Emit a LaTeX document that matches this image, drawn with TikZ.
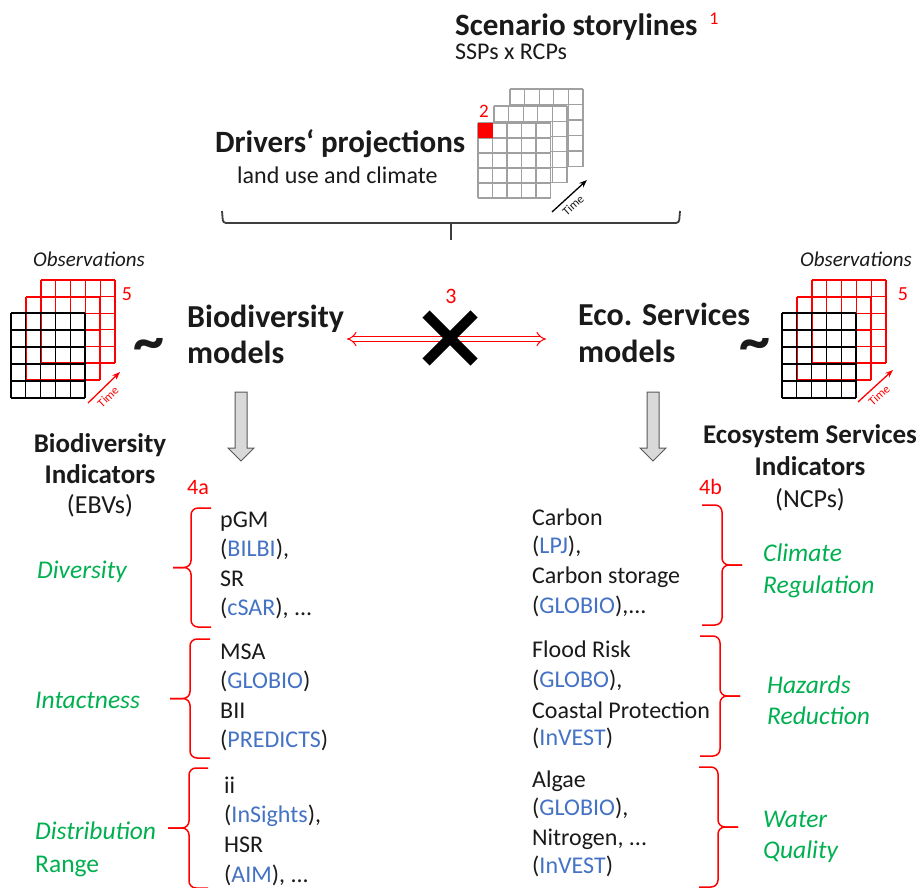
\documentclass[tikz,border=0pt]{standalone}
\usepackage{fontspec}
\setmainfont{Carlito}
\usetikzlibrary{arrows.meta}
\definecolor{mred}{HTML}{FF0000}
\definecolor{mgreen}{HTML}{00B050}
\definecolor{mblue}{HTML}{4472C4}
\definecolor{mtext}{HTML}{1A1A1A}
\definecolor{mgrid}{HTML}{A0A0A0}
\definecolor{mfill}{HTML}{D9D9D9}
\definecolor{mdark}{HTML}{595959}
\newcommand\fs[1]{\fontsize{#1}{#1}\selectfont}
\newcommand\mygrid[6]{%
  \path[fill=#6] (#1,#2) rectangle ++({5*#3},{5*#4});
  \foreach \i in {0,...,5} {
    \draw[#5, line width=1.1] ({#1+\i*#3},#2) -- ++(0,{5*#4});
    \draw[#5, line width=1.1] (#1,{#2+\i*#4}) -- ++({5*#3},0);
  }}
\newcommand\leftbr[5]{%
  \draw[mred, line width=1.5, rounded corners=7] (#3,#1) -- (#4,#1) -- (#4,{(#1+#2)/2}) -- (#5,{(#1+#2)/2});
  \draw[mred, line width=1.5, rounded corners=7] (#3,#2) -- (#4,#2) -- (#4,{(#1+#2)/2}) -- (#5,{(#1+#2)/2});}
\newcommand\grayarrow[1]{%
  \draw[fill=mfill, draw=mdark, line width=1] ({#1-6},392) -- ({#1+6},392) -- ({#1+6},448) -- ({#1+13},448) -- (#1,461) -- ({#1-13},448) -- ({#1-6},448) -- cycle;}
\begin{document}
\begin{tikzpicture}[x=1pt,y=-1pt,
  txt/.style={inner sep=0pt, anchor=base west, text=mtext},
  ctxt/.style={inner sep=0pt, anchor=base, text=mtext},
  body/.style={txt, font=\fs{24}},
  green/.style={txt, font=\fs{25.5}\itshape, text=mgreen},
  redlabel/.style={inner sep=0pt, anchor=base, text=mred},
  timearrow/.style={-{Stealth[length=8pt,width=6pt]}, line width=1.3},
  timetext/.style={sloped, below, pos=0.42, font=\fs{12}, inner sep=4.5pt},
  tildetxt/.style={inner sep=0pt, font=\fs{62}\bfseries, text=mtext}]
\useasboundingbox[fill=white] (0,0) rectangle (918,888);

% ---------- top ----------
\node[txt, font=\fs{31}\bfseries] (scen) at (455,36) {Scenario storylines};
\node[redlabel, font=\fs{18}] (n1) at (714,25) {1};
\node[txt, font=\fs{24}] (ssp) at (455,60) {SSPs x RCPs};

\mygrid{510}{89}{14.6}{15.5}{mgrid}{white}
\mygrid{494}{106}{14.6}{15.3}{mgrid}{white}
\mygrid{478}{123}{14.5}{15}{mgrid}{white}
\fill[mred] (478,123) rectangle ++(14.5,15);
\node[redlabel, font=\fs{19}] (n2) at (484,118) {2};

\node[txt, font=\fs{31}\bfseries] (drv) at (215,153) {Drivers‘ projections};
\node[txt, font=\fs{24}] (lu) at (237,183) {land use and climate};

\coordinate (t1a) at (552,212);
\coordinate (t1b) at (587,180);
\draw[timearrow, black] (t1a) -- node[timetext, text=mtext] {Time} (t1b);

\draw[line width=1.8, draw=mdark!70!black, rounded corners=3] (222,211) -- (223,223) -- (679,223) -- (680,211);
\coordinate (bt) at (451,223);
\coordinate (btb) at (451,240);
\draw[line width=1.8, draw=mdark!70!black] (bt) -- (btb);

% ---------- observations left ----------
\node[txt, font=\fs{21}\itshape] (obsl) at (33,266) {Observations};
\mygrid{41}{280}{14.8}{16.6}{mred}{none}
\mygrid{26}{297}{14.8}{16.6}{mred}{none}
\mygrid{11}{313}{14.8}{17}{black}{none}
\node[redlabel, font=\fs{20}] (n5l) at (127,300) {5};
\coordinate (t2a) at (88,403);
\coordinate (t2b) at (120,372);
\draw[timearrow, mred] (t2a) -- node[timetext, text=mred] {Time} (t2b);
\node[tildetxt] (tildel) at (149,350) {\char"7E};

% ---------- observations right ----------
\node[txt, font=\fs{21}\itshape] (obsr) at (800,266) {Observations};
\mygrid{812}{280}{14.8}{16.6}{mred}{none}
\mygrid{797}{297}{14.8}{16.6}{mred}{none}
\mygrid{782}{313}{14.8}{17}{black}{none}
\node[redlabel, font=\fs{20}] (n5r) at (903,300) {5};
\coordinate (t3a) at (858,402);
\coordinate (t3b) at (893,370);
\draw[timearrow, mred] (t3a) -- node[timetext, text=mred] {Time} (t3b);
\node[tildetxt] (tilder) at (755,350) {\char"7E};

% ---------- models ----------
\node[txt, font=\fs{32}\bfseries] (bm1) at (187,327) {Biodiversity};
\node[txt, font=\fs{32}\bfseries] (bm2) at (187,363) {models};
\node[txt, font=\fs{32}\bfseries] (em1) at (578,325) {Eco. Services};
\node[txt, font=\fs{32}\bfseries] (em2) at (578,362) {models};

\coordinate (dl) at (347,339);
\coordinate (dr) at (546,339);
\draw[mred, line width=1, double distance=4pt, {Implies[scale=1.5]}-{Implies[scale=1.5]}] (dl) -- (dr);
\draw[line width=10, black] (426,314) -- (474,362) (426,362) -- (474,314);
\node[redlabel, font=\fs{22}] (n3) at (451,303) {3};

\grayarrow{241}
\grayarrow{653}

% ---------- indicators headings ----------
\node[ctxt, font=\fs{27}\bfseries] (bi1) at (100,452) {Biodiversity};
\node[ctxt, font=\fs{27}\bfseries] (bi2) at (100,483) {Indicators};
\node[ctxt, font=\fs{26}] (bi3) at (100,513) {(EBVs)};
\node[ctxt, font=\fs{27}\bfseries] (ei1) at (810,443) {Ecosystem Services};
\node[ctxt, font=\fs{27}\bfseries] (ei2) at (810,475) {Indicators};
\node[ctxt, font=\fs{26}] (ei3) at (810,507) {(NCPs)};
\node[txt, font=\fs{22}, text=mred] (n4a) at (187,494) {4a};
\node[txt, font=\fs{22}, text=mred] (n4b) at (699,494) {4b};

% ---------- left column ----------
\node[body] (l1) at (220,527) {pGM};
\node[body] (l2) at (220,556) {(\textcolor{mblue}{BILBI}),};
\node[body] (l3) at (220,586) {SR};
\node[body] (l4) at (220,615) {(\textcolor{mblue}{cSAR}), ...};
\node[body] (l5) at (220,659) {MSA};
\node[body] (l6) at (220,688) {(\textcolor{mblue}{GLOBIO})};
\node[body] (l7) at (220,718) {BII};
\node[body] (l8) at (220,747) {(\textcolor{mblue}{PREDICTS})};
\node[body] (l9) at (224,793) {ii};
\node[body] (l10) at (224,822) {(\textcolor{mblue}{InSights}),};
\node[body] (l11) at (224,852) {HSR};
\node[body] (l12) at (224,882) {(\textcolor{mblue}{AIM}), ...};

\node[green] (g1) at (37,578) {Diversity};
\node[green] (g2) at (35,708) {Intactness};
\node[green] (g3) at (35,839) {Distribution};
\node[green, font=\fs{25.5}] (g4) at (35,872) {Range};

\leftbr{508}{627}{211}{191}{173}
\leftbr{639}{758}{210}{190}{170}
\leftbr{768}{888}{208}{189}{168}

% ---------- right column ----------
\node[body] (r1) at (532,525) {Carbon};
\node[body] (r2) at (532,553) {(\textcolor{mblue}{LPJ}),};
\node[body] (r3) at (532,583) {Carbon storage};
\node[body] (r4) at (532,613) {(\textcolor{mblue}{GLOBIO}),...};
\node[body] (r5) at (532,657) {Flood Risk};
\node[body] (r6) at (532,687) {(\textcolor{mblue}{GLOBO}),};
\node[body] (r7) at (532,718) {Coastal Protection};
\node[body] (r8) at (532,745) {(\textcolor{mblue}{InVEST})};
\node[body] (r9) at (532,787) {Algae};
\node[body] (r10) at (532,815) {(\textcolor{mblue}{GLOBIO}),};
\node[body] (r11) at (532,845) {Nitrogen, ...};
\node[body] (r12) at (532,873) {(\textcolor{mblue}{InVEST})};

\node[green] (c1) at (763,561) {Climate};
\node[green] (c2) at (763,593) {Regulation};
\node[green] (h1) at (767,693) {Hazards};
\node[green] (h2) at (767,724) {Reduction};
\node[green] (w1) at (763,827) {Water};
\node[green] (w2) at (763,858) {Quality};

\leftbr{505}{625}{702}{722}{742}
\leftbr{636}{756}{700}{720}{740}
\leftbr{767}{887}{699}{718}{738}
\end{tikzpicture}
\end{document}
